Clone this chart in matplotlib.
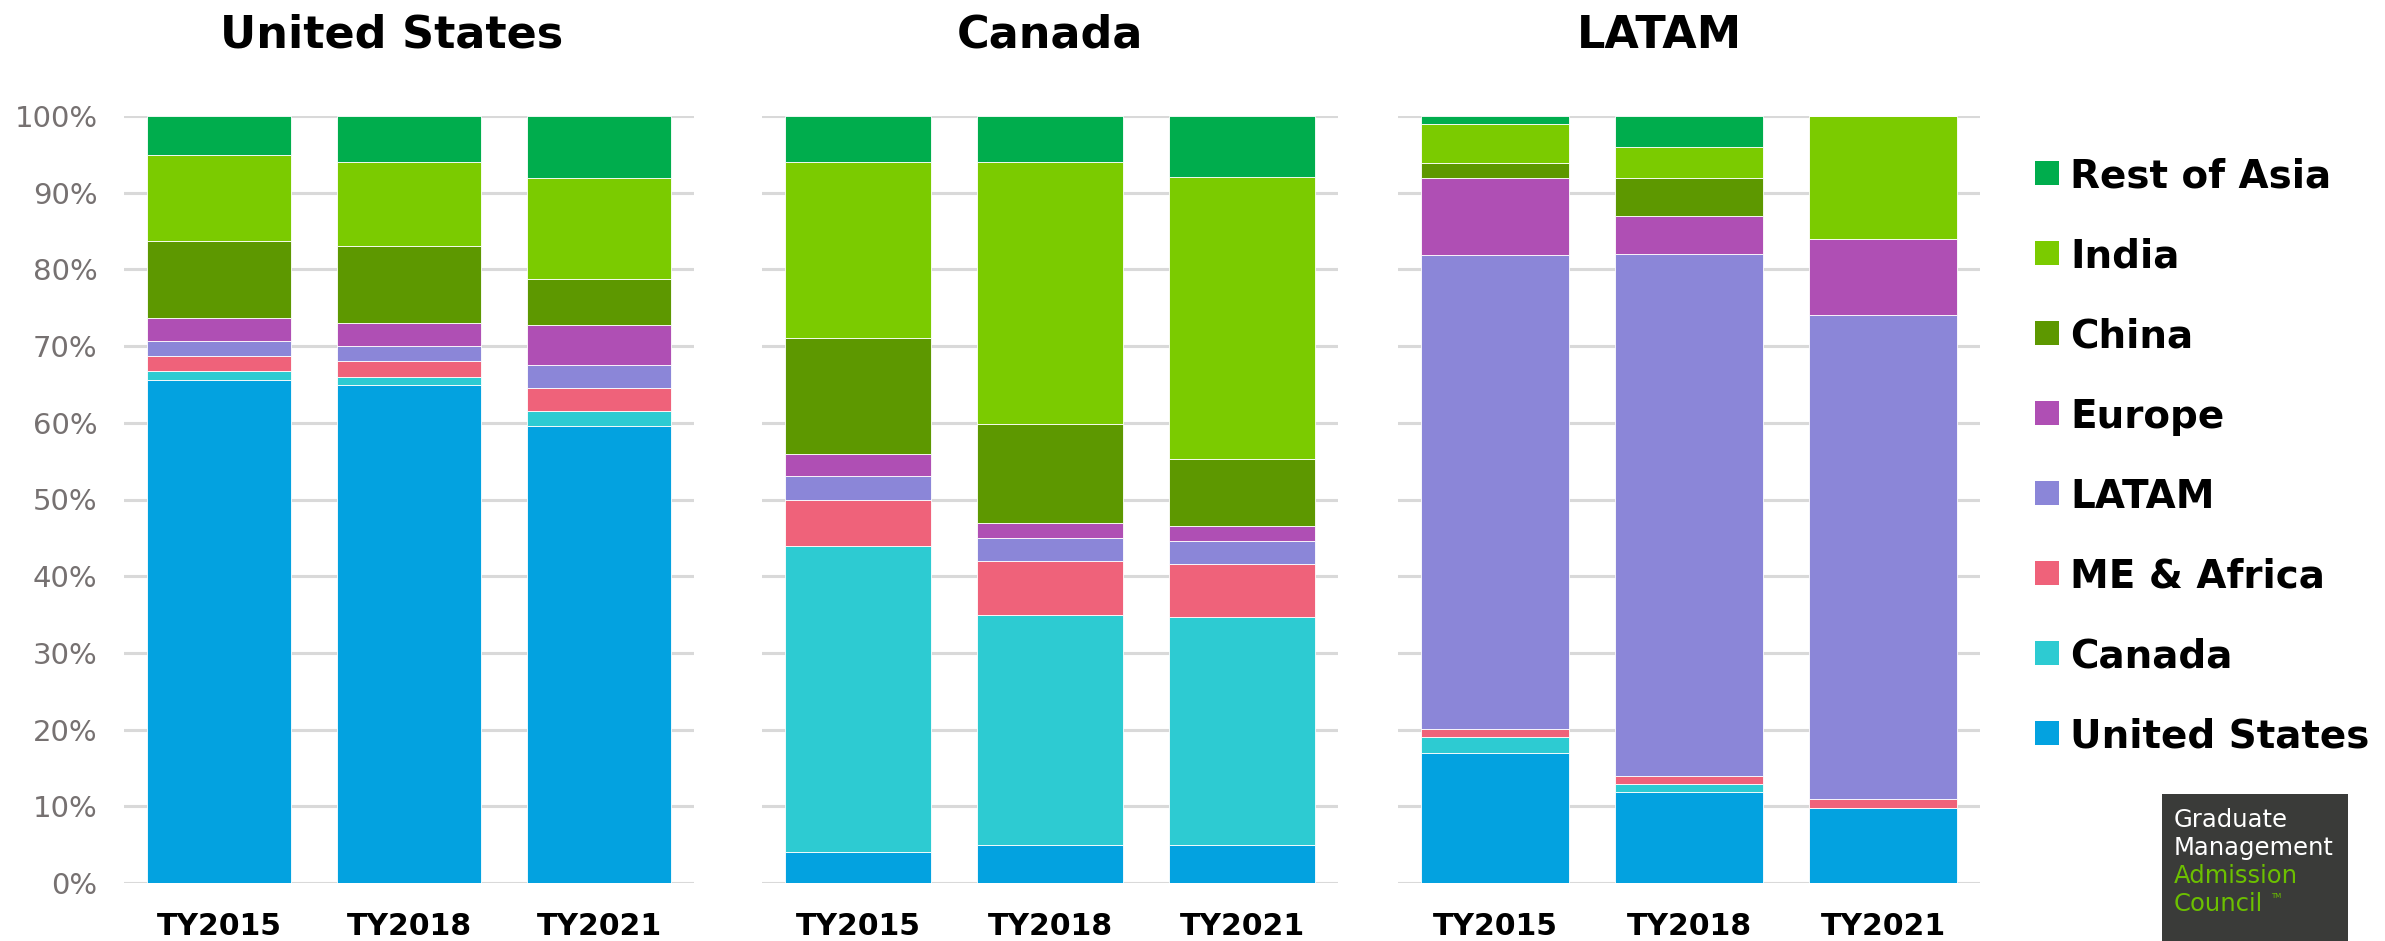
import matplotlib
matplotlib.use("Agg")
import matplotlib.pyplot as plt
import numpy as np
from matplotlib.patches import Rectangle

W, H = 2385, 941
DPI = 100

years = ["TY2015", "TY2018", "TY2021"]
panel_titles = ["United States", "Canada", "LATAM"]
origins = ["United States", "Canada", "ME & Africa", "LATAM",
           "Europe", "China", "India", "Rest of Asia"]
origin_colors = ["#03A2E0", "#2DCBD2", "#EF627A", "#8B86D8",
                 "#AF4FB4", "#5D9800", "#7BCB00", "#00AD4D"]

# Share of GMAT test takers by citizenship (%), one row per origin, bottom to top
us_shares = [
    [65.6, 64.9, 59.6],   # United States
    [1.1, 1.1, 2.0],      # Canada
    [2.0, 2.0, 3.0],      # ME & Africa
    [2.0, 2.0, 3.0],      # LATAM
    [3.0, 3.0, 5.1],      # Europe
    [10.0, 10.0, 6.0],    # China
    [11.2, 11.0, 13.2],   # India
    [5.1, 6.0, 8.1],      # Rest of Asia
]
canada_shares = [
    [4.0, 5.0, 5.0],
    [40.0, 30.0, 29.7],
    [5.9, 7.0, 6.9],
    [3.1, 3.0, 3.0],
    [2.9, 2.0, 2.0],
    [15.1, 12.9, 8.7],
    [23.0, 34.1, 36.7],
    [6.0, 6.0, 8.0],
]
latam_shares = [
    [17.0, 11.9, 9.8],
    [2.1, 1.0, 0.0],
    [1.0, 1.0, 1.1],
    [61.8, 68.1, 63.1],
    [10.0, 4.9, 10.0],
    [2.0, 5.0, 0.0],
    [5.1, 4.1, 16.0],
    [1.0, 4.0, 0.0],
]
panel_data = [us_shares, canada_shares, latam_shares]

fig = plt.figure(figsize=(W / DPI, H / DPI), dpi=DPI)
fig.patch.set_facecolor("white")

# axes boxes in pixels: (left, right)
ax_px = [(124, 694), (762, 1338), (1398, 1980)]
ax_bottom, ax_top = 883, 116
title_x = [392, 1050, 1659]

font = "DejaVu Sans"
for k, (l, r) in enumerate(ax_px):
    ax = fig.add_axes([l / W, (H - ax_bottom) / H, (r - l) / W, (ax_bottom - ax_top) / H])
    data = np.array(panel_data[k])
    x = np.arange(len(years))
    bottom = np.zeros(len(years))
    for i, name in enumerate(origins):
        ax.bar(x, data[i], 0.76, bottom=bottom, color=origin_colors[i],
               edgecolor="white", linewidth=0.6, zorder=3)
        bottom += data[i]
    ax.set_xlim(-0.5, len(years) - 0.5)
    ax.set_ylim(0, 100)
    ax.set_yticks(np.arange(0, 101, 10))
    ax.yaxis.grid(True, color="#D9D9D9", linewidth=2.2, zorder=0)
    ax.set_axisbelow(True)
    for s in ax.spines.values():
        s.set_visible(False)
    ax.set_xticks(x)
    ax.set_xticklabels(years, fontsize=21.5, fontweight="bold", family=font, color="black")
    ax.tick_params(axis="x", length=0, pad=21)
    ax.tick_params(axis="y", length=0, pad=19)
    if k == 0:
        ax.set_yticklabels([f"{v}%" for v in range(0, 101, 10)],
                           fontsize=21, family=font, color="#767171")
    else:
        ax.set_yticklabels([])
    fig.text(title_x[k] / W, 1 - 48 / H, panel_titles[k], ha="center", va="baseline",
             fontsize=32, fontweight="bold", family=font, color="black")

# Legend, top entry is the top stack segment
for j, name in enumerate(origins[::-1]):
    cy = 173 + 80 * j
    color = origin_colors[::-1][j]
    fig.patches.append(Rectangle((2035 / W, 1 - (cy + 12) / H), 24 / W, 24 / H,
                                 transform=fig.transFigure, facecolor=color,
                                 edgecolor="none"))
    fig.text(2070 / W, 1 - cy / H, name, ha="left", va="center_baseline",
             fontsize=28, fontweight="bold", family=font, color="black")

# GMAC logo box
fig.patches.append(Rectangle((2162 / W, 0), 186 / W, (H - 794) / H,
                             transform=fig.transFigure, facecolor="#3A3B39",
                             edgecolor="none"))
logo_lines = [("Graduate", "white"), ("Management", "white"),
              ("Admission", "#6CC000"), ("Council", "#6CC000")]
for n, (txt, col) in enumerate(logo_lines):
    fig.text(2174 / W, 1 - (827 + 28 * n) / H, txt, ha="left", va="baseline",
             fontsize=17.5, family=font, color=col)
fig.text(2271 / W, 1 - 898 / H, "TM", ha="left", va="baseline",
         fontsize=5, family=font, color="#6CC000")

fig.savefig("out.png", dpi=DPI, facecolor="white")
